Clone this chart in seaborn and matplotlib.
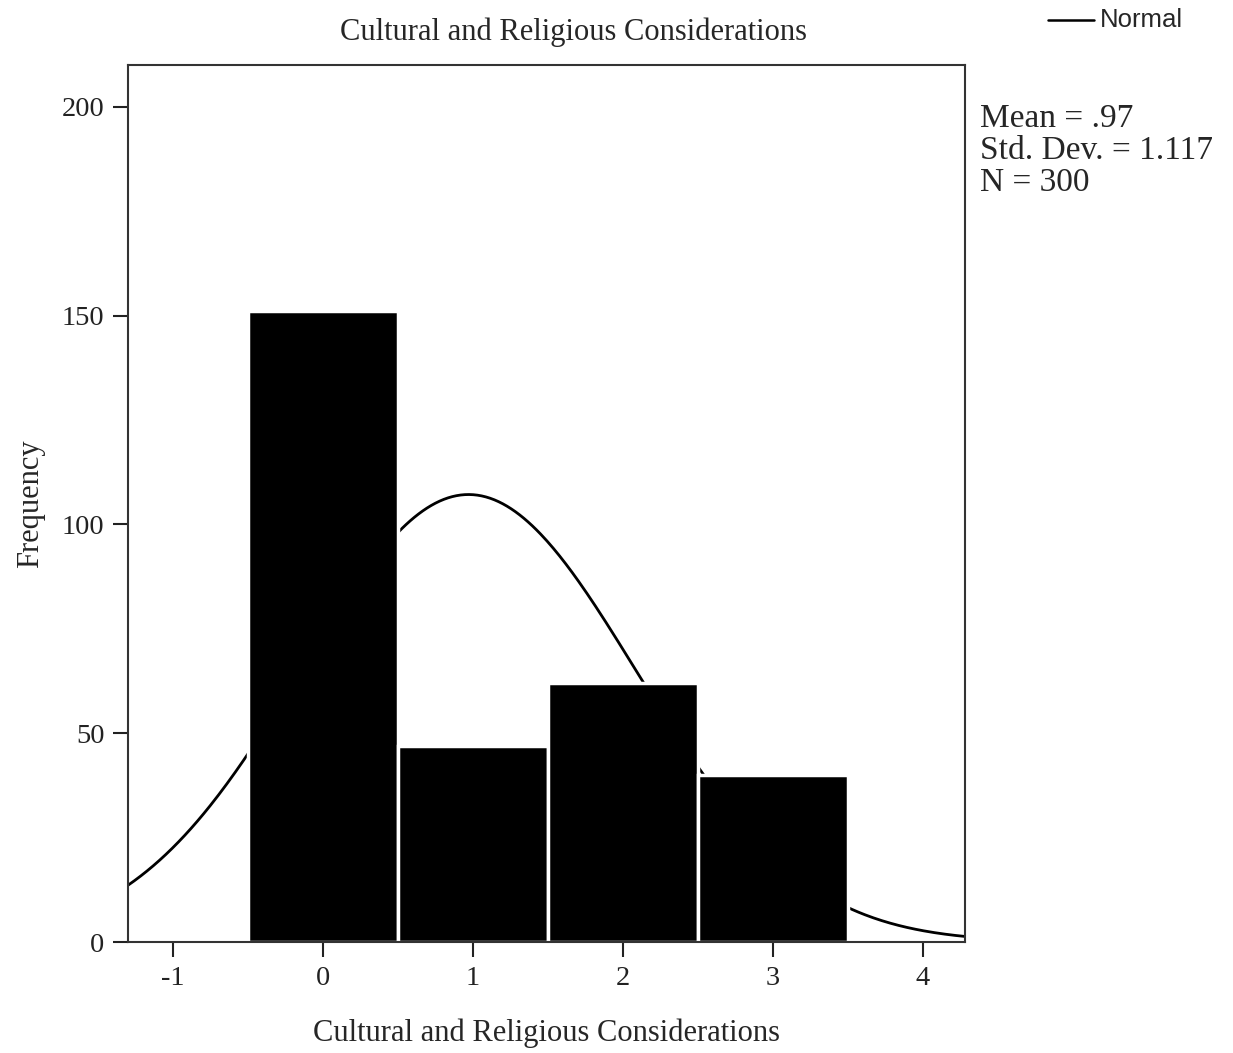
import numpy as np
import pandas as pd
import seaborn as sns
import matplotlib.pyplot as plt

# Data
scores = [0, 1, 2, 3]
counts = [151, 47, 62, 40]
bin_edges = [-0.5, 0.5, 1.5, 2.5, 3.5]
mean_val = 0.97
std_val = 1.117
n_total = 300
x_ticks = [-1, 0, 1, 2, 3, 4]
y_ticks = [0, 50, 100, 150, 200]

hist_df = pd.DataFrame({"score": scores, "count": counts})

# Normal curve scaled to counts (bin width 1)
curve_x = np.linspace(-1.3, 4.3, 400)
curve_y = n_total * np.exp(-0.5 * ((curve_x - mean_val) / std_val) ** 2) / (std_val * np.sqrt(2 * np.pi))
curve_df = pd.DataFrame({"x": curve_x, "y": curve_y})

sns.set_style("ticks")
plt.rcParams["font.family"] = ["Liberation Serif", "DejaVu Serif"]
plt.rcParams["axes.unicode_minus"] = False

fig = plt.figure(figsize=(12.33, 10.53), dpi=100)
ax = fig.add_axes([0.1038, 0.1054, 0.6789, 0.8329])

sns.lineplot(data=curve_df, x="x", y="y", color="black", linewidth=2, ax=ax, zorder=1)

sns.histplot(
    data=hist_df,
    x="score",
    weights="count",
    bins=bin_edges,
    color="black",
    edgecolor="white",
    linewidth=2.5,
    alpha=1,
    ax=ax,
    zorder=2,
)

ax.set_xlim(-1.3, 4.28)
ax.set_ylim(0, 210)
ax.set_xticks(x_ticks)
ax.set_yticks(y_ticks)
ax.tick_params(direction="out", length=11, width=1.5, labelsize=20.5, colors="#222222", pad=6)

for side in ["top", "right", "bottom", "left"]:
    ax.spines[side].set_visible(True)
    ax.spines[side].set_linewidth(1.5)
    ax.spines[side].set_color("#333333")

ax.set_xlabel("Cultural and Religious Considerations", fontsize=22, labelpad=20)
ax.set_ylabel("Frequency", fontsize=22, labelpad=12)
ax.set_title("Cultural and Religious Considerations", fontsize=22, pad=18, x=0.532)

# Stats box
fig.text(0.795, 0.902, "Mean = .97\nStd. Dev. = 1.117\nN = 300",
         fontsize=24, va="top", ha="left", linespacing=1.06)

# Legend outside
fig.lines.append(plt.Line2D([0.850, 0.887], [0.981, 0.981], color="black", linewidth=1.8,
                            transform=fig.transFigure))
fig.text(0.892, 0.981, "Normal", fontsize=18.5, va="center", ha="left",
         family=["Liberation Sans", "DejaVu Sans"])

plt.savefig("out.png", dpi=100)
plt.close()
